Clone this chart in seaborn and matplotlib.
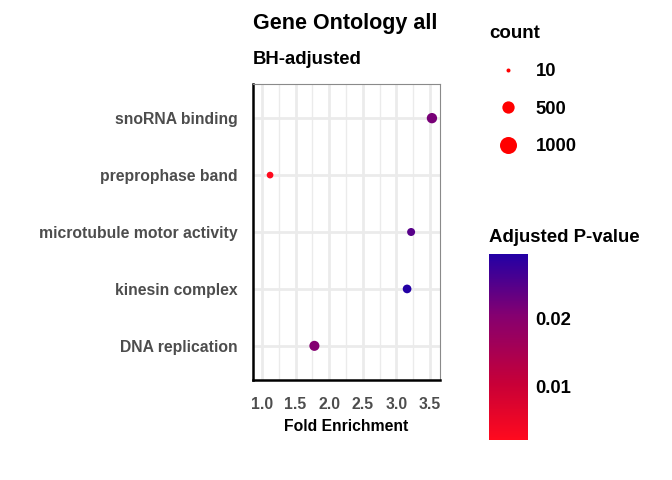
import numpy as np
import pandas as pd
import matplotlib
matplotlib.use("Agg")
import matplotlib.pyplot as plt
import seaborn as sns
from matplotlib.colors import LinearSegmentedColormap, Normalize
from matplotlib.lines import Line2D
from matplotlib.ticker import MultipleLocator

# data
terms = ["DNA replication", "kinesin complex", "microtubule motor activity",
         "preprophase band", "snoRNA binding"]
fold_enrichment = [1.78, 3.16, 3.22, 1.12, 3.53]
adj_pvalue = [0.0205, 0.0293, 0.0245, 0.0023, 0.0215]
gene_count = [320, 226, 184, 115, 340]
count_breaks = [10, 500, 1000]
pval_breaks = [0.01, 0.02]

df = pd.DataFrame({"term": terms, "fold": fold_enrichment,
                   "padj": adj_pvalue, "count": gene_count})

sns.set_theme(style="white")
plt.rcParams['font.family'] = ['Liberation Sans', 'DejaVu Sans']
plt.rcParams['text.color'] = 'black'
plt.rcParams['axes.labelcolor'] = 'black'

cmap = LinearSegmentedColormap.from_list(
    "pval", [(0, "#FF0A1E"), (0.3, "#C80037"), (0.67, "#850070"), (1, "#2300A5")])
pnorm = Normalize(0.0023, 0.0293)
size_range = (8.3, 150.0)
size_norm = (10, 1000)

fig = plt.figure(figsize=(6.72, 4.8), dpi=100)
ax = fig.add_axes([253/672, 1 - 380/480, 187/672, 296/480])

sns.scatterplot(data=df, x="fold", y="term", hue="padj", size="count",
                palette=cmap, hue_norm=pnorm, sizes=size_range,
                size_norm=size_norm, linewidth=0, legend=False, ax=ax, zorder=3)

ax.set_xlim(0.866, 3.65)
ax.set_ylim(-0.6, 4.6)
ax.xaxis.set_major_locator(MultipleLocator(0.5))
ax.xaxis.set_minor_locator(MultipleLocator(0.25))
ax.set_xticklabels([f"{t:.1f}" for t in ax.get_xticks()])
ax.grid(True, which="major", color="#EBEBEB", linewidth=2.0, zorder=0)
ax.grid(True, which="minor", axis="x", color="#EBEBEB", linewidth=1.0, zorder=0)
ax.set_axisbelow(True)

for side in ["left", "bottom"]:
    ax.spines[side].set_color("black")
    ax.spines[side].set_linewidth(1.8)
for side in ["top", "right"]:
    ax.spines[side].set_color("#8A8A8A")
    ax.spines[side].set_linewidth(0.8)

ax.tick_params(axis="both", which="major", length=4.5, width=1.6, color="black",
               labelsize=11.3, labelcolor="#4D4D4D")
ax.tick_params(axis="x", which="major", pad=8)
ax.tick_params(axis="y", which="major", pad=6.5)
ax.tick_params(axis="x", which="minor", length=0)
for lab in ax.get_xticklabels() + ax.get_yticklabels():
    lab.set_fontweight("bold")
ax.set_xlabel("Fold Enrichment", fontsize=11.3, fontweight="bold", color="black", labelpad=4.5)
ax.set_ylabel("")

fig.text(253/672, 1 - 24/480, "Gene Ontology all", fontsize=15.5, fontweight="bold",
         ha="left", va="center", color="black")
fig.text(253/672, 1 - 60/480, "BH-adjusted", fontsize=13.3, fontweight="bold",
         ha="left", va="center", color="black")

# size legend
def area(c):
    lo, hi = size_norm
    return size_range[0] + (c - lo) / (hi - lo) * (size_range[1] - size_range[0])

handles = [Line2D([], [], linestyle="", marker="o", markersize=np.sqrt(area(c)),
                  markerfacecolor="red", markeredgewidth=0, label=str(c))
           for c in count_breaks]
leg = fig.legend(handles=handles, title="count", loc="upper left",
                 bbox_to_anchor=(482/672, 1 - 18/480), frameon=False,
                 prop={"weight": "bold", "size": 13.3}, labelspacing=1.12,
                 handletextpad=0.45, handlelength=2.05, borderaxespad=0)
leg.get_title().set_fontweight("bold")
leg.get_title().set_fontsize(13.5)
leg.get_title().set_color("black")
for t in leg.get_texts():
    t.set_color("black")
leg._legend_box.align = "left"

# colour bar
cax = fig.add_axes([489/672, 1 - 440/480, 39/672, 186/480])
sm = plt.cm.ScalarMappable(norm=pnorm, cmap=cmap)
cbar = fig.colorbar(sm, cax=cax, ticks=pval_breaks)
cbar.outline.set_visible(False)
cbar.ax.set_yticklabels([f"{t:.2f}" for t in pval_breaks])
cbar.ax.yaxis.set_ticks_position("both")
cbar.ax.tick_params(direction="in", color="white", length=5, width=0.6,
                    labelsize=13.3, labelcolor="black", pad=5, left=True, labelleft=False)
for lab in cbar.ax.get_yticklabels():
    lab.set_fontweight("bold")
fig.text(489/672, 1 - 237/480, "Adjusted P-value", fontsize=13.4, fontweight="bold",
         ha="left", va="center", color="black")

fig.savefig("out.png", dpi=100)
